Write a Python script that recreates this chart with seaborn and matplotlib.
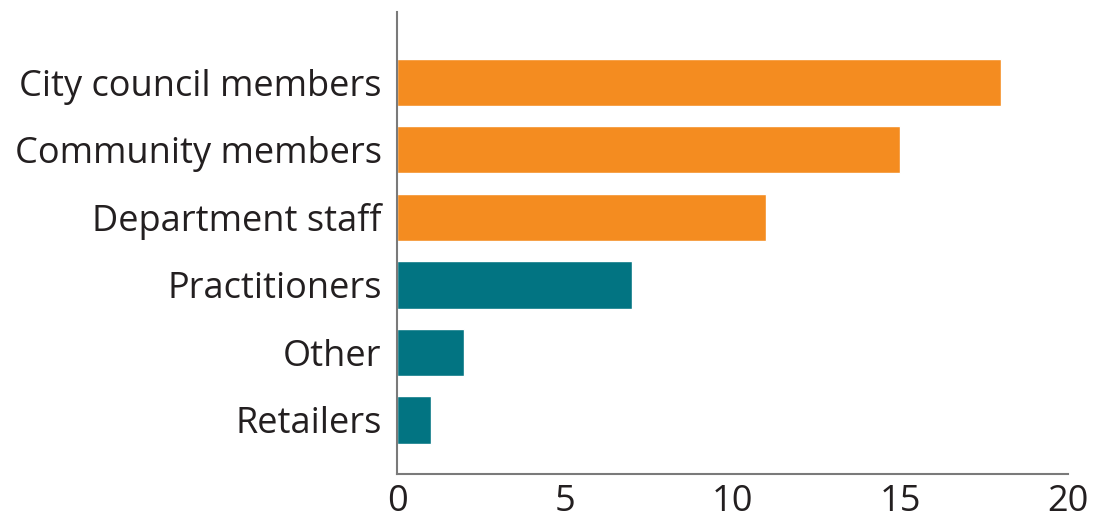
import matplotlib
matplotlib.use("Agg")
import matplotlib.pyplot as plt
import seaborn as sns
import pandas as pd

# Who participated, by group
groups = ["City council members", "Community members", "Department staff",
          "Practitioners", "Other", "Retailers"]
counts = [18, 15, 11, 7, 2, 1]
kind = ["core", "core", "core", "other", "other", "other"]

ORANGE = "#F48C20"
TEAL = "#027482"
TEXT = "#231F20"

sns.set_theme(style="white")
plt.rcParams["font.family"] = ["Open Sans", "DejaVu Sans"]

df = pd.DataFrame({"group": groups, "count": counts, "kind": kind})

fig = plt.figure(figsize=(10.94, 5.19), dpi=100)
ax = fig.add_axes([0.3629, 0.0867, 0.6133, 0.8902])

sns.barplot(data=df, x="count", y="group", hue="kind",
            palette={"core": ORANGE, "other": TEAL},
            order=groups, width=0.7, dodge=False, legend=False,
            saturation=1, ax=ax)

ax.set_xlim(0, 20)
ax.set_ylim(5.8, -1.04)
ax.set_xticks([0, 5, 10, 15, 20])
ax.set_xlabel("")
ax.set_ylabel("")
sns.despine(ax=ax, top=True, right=True)
for side in ("left", "bottom"):
    ax.spines[side].set_color("#7A7A7A")
    ax.spines[side].set_linewidth(1.5)
ax.tick_params(axis="both", length=0, labelsize=26, labelcolor=TEXT)
ax.tick_params(axis="y", pad=11)
ax.tick_params(axis="x", pad=7)

fig.savefig("out.png", dpi=100)
